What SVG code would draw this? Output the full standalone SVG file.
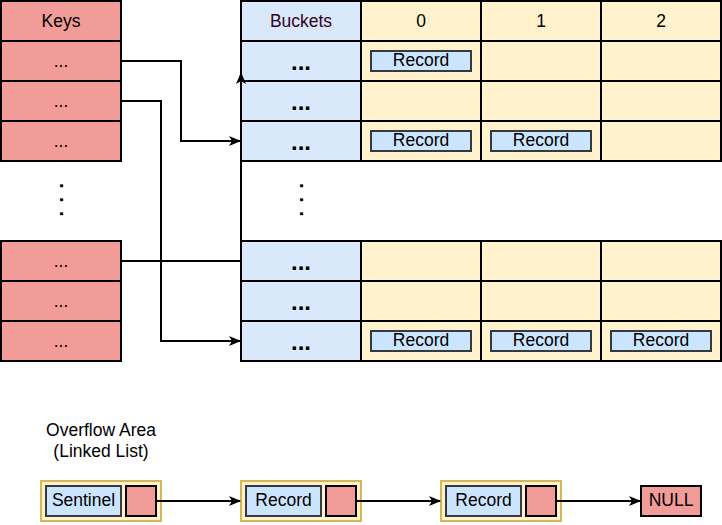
<svg xmlns="http://www.w3.org/2000/svg" width="722" height="525" viewBox="0 0 722 525">
<defs>
<style>
text{font-family:"Liberation Sans",Arial,Helvetica,sans-serif;font-size:17.5px;fill:#000;text-anchor:middle;dominant-baseline:central}
.key{fill:#f19c99;stroke:#000;stroke-width:2}
.bkt{fill:#dae8fc;stroke:#000;stroke-width:2}
.cell{fill:#fff2cc;stroke:#000;stroke-width:2}
.rec{fill:#cce5ff;stroke:#36393d;stroke-width:2}
.outer{fill:#fff2cc;stroke:#d6b656;stroke-width:2}
.ptr{fill:#f19c99;stroke:#000;stroke-width:2}
.dots{font-size:24px;font-weight:bold}
.vdots{font-size:20px;font-weight:bold;letter-spacing:8.4px}
.conn{fill:none;stroke:#000;stroke-width:2}
</style>
<marker id="arr" viewBox="0 0 12 10" markerWidth="12" markerHeight="10" refX="11" refY="5" orient="auto" markerUnits="userSpaceOnUse">
<path d="M0,0 L12,5 L0,10 L3,5 z" fill="#000"/>
</marker>
</defs>
<rect width="722" height="525" fill="#fff"/>

<g id="keys">
<rect class="key" x="1" y="1" width="120" height="40"/><text x="61" y="21">Keys</text>
<rect class="key" x="1" y="41" width="120" height="40"/><text x="61" y="61">...</text>
<rect class="key" x="1" y="81" width="120" height="40"/><text x="61" y="101">...</text>
<rect class="key" x="1" y="121" width="120" height="40"/><text x="61" y="141">...</text>
<text class="vdots" x="0" y="0" transform="translate(67,204) rotate(90)">...</text>
<rect class="key" x="1" y="241" width="120" height="40"/><text x="61" y="261">...</text>
<rect class="key" x="1" y="281" width="120" height="40"/><text x="61" y="301">...</text>
<rect class="key" x="1" y="321" width="120" height="40"/><text x="61" y="341">...</text>
</g>

<g id="buckets-top">
<rect class="bkt" x="241" y="1" width="120" height="40"/><text x="301" y="21" style="fill:#330026">Buckets</text>
<rect class="cell" x="361" y="1" width="120" height="40"/><text x="421" y="21">0</text>
<rect class="cell" x="481" y="1" width="120" height="40"/><text x="541" y="21">1</text>
<rect class="cell" x="601" y="1" width="120" height="40"/><text x="661" y="21">2</text>

<rect class="bkt" x="241" y="41" width="120" height="40"/><text class="dots" x="301" y="61">...</text>
<rect class="cell" x="361" y="41" width="120" height="40"/>
<rect class="cell" x="481" y="41" width="120" height="40"/>
<rect class="cell" x="601" y="41" width="120" height="40"/>

<rect class="bkt" x="241" y="81" width="120" height="40"/><text class="dots" x="301" y="101">...</text>
<rect class="cell" x="361" y="81" width="120" height="40"/>
<rect class="cell" x="481" y="81" width="120" height="40"/>
<rect class="cell" x="601" y="81" width="120" height="40"/>

<rect class="bkt" x="241" y="121" width="120" height="40"/><text class="dots" x="301" y="141">...</text>
<rect class="cell" x="361" y="121" width="120" height="40"/>
<rect class="cell" x="481" y="121" width="120" height="40"/>
<rect class="cell" x="601" y="121" width="120" height="40"/>
</g>

<g id="buckets-ellipsis">
<text class="vdots" x="0" y="0" transform="translate(307,204) rotate(90)">...</text>
</g>

<g id="buckets-bottom">
<rect class="bkt" x="241" y="241" width="120" height="40"/><text class="dots" x="301" y="261">...</text>
<rect class="cell" x="361" y="241" width="120" height="40"/>
<rect class="cell" x="481" y="241" width="120" height="40"/>
<rect class="cell" x="601" y="241" width="120" height="40"/>

<rect class="bkt" x="241" y="281" width="120" height="40"/><text class="dots" x="301" y="301">...</text>
<rect class="cell" x="361" y="281" width="120" height="40"/>
<rect class="cell" x="481" y="281" width="120" height="40"/>
<rect class="cell" x="601" y="281" width="120" height="40"/>

<rect class="bkt" x="241" y="321" width="120" height="40"/><text class="dots" x="301" y="341">...</text>
<rect class="cell" x="361" y="321" width="120" height="40"/>
<rect class="cell" x="481" y="321" width="120" height="40"/>
<rect class="cell" x="601" y="321" width="120" height="40"/>
</g>

<g id="records">
<rect class="rec" x="371" y="51" width="100" height="20"/><text x="421" y="60">Record</text>
<rect class="rec" x="371" y="131" width="100" height="20"/><text x="421" y="140">Record</text>
<rect class="rec" x="491" y="131" width="100" height="20"/><text x="541" y="140">Record</text>
<rect class="rec" x="371" y="331" width="100" height="20"/><text x="421" y="340">Record</text>
<rect class="rec" x="491" y="331" width="100" height="20"/><text x="541" y="340">Record</text>
<rect class="rec" x="611" y="331" width="100" height="20"/><text x="661" y="340">Record</text>
</g>

<g id="overflow-label">
<text x="101" y="430">Overflow Area</text>
<text x="101" y="451">(Linked List)</text>
</g>

<g id="sentinel">
<rect class="outer" x="41" y="481" width="120" height="40"/>
<rect class="rec" x="46" y="486" width="75" height="30"/><text x="83.5" y="500">Sentinel</text>
<rect class="ptr" x="126" y="486" width="30" height="30"/>
</g>
<g id="node1">
<rect class="outer" x="241" y="481" width="120" height="40"/>
<rect class="rec" x="246" y="486" width="75" height="30"/><text x="283.5" y="500">Record</text>
<rect class="ptr" x="326" y="486" width="30" height="30"/>
</g>
<g id="node2">
<rect class="outer" x="441" y="481" width="120" height="40"/>
<rect class="rec" x="446" y="486" width="75" height="30"/><text x="483.5" y="500">Record</text>
<rect class="ptr" x="526" y="486" width="30" height="30"/>
</g>
<g id="null">
<rect class="ptr" x="641" y="486" width="60" height="30"/><text x="671" y="500">NULL</text>
</g>

<g id="connectors">
<polyline class="conn" points="121,61 181,61 181,141 240,141" marker-end="url(#arr)"/>
<polyline class="conn" points="121,101 161,101 161,341 240,341" marker-end="url(#arr)"/>
<polyline class="conn" points="121,261 241,261 241,73" marker-end="url(#arr)"/>
<line class="conn" x1="156" y1="501" x2="240" y2="501" marker-end="url(#arr)"/>
<line class="conn" x1="356" y1="501" x2="440" y2="501" marker-end="url(#arr)"/>
<line class="conn" x1="556" y1="501" x2="640" y2="501" marker-end="url(#arr)"/>
</g>
</svg>
